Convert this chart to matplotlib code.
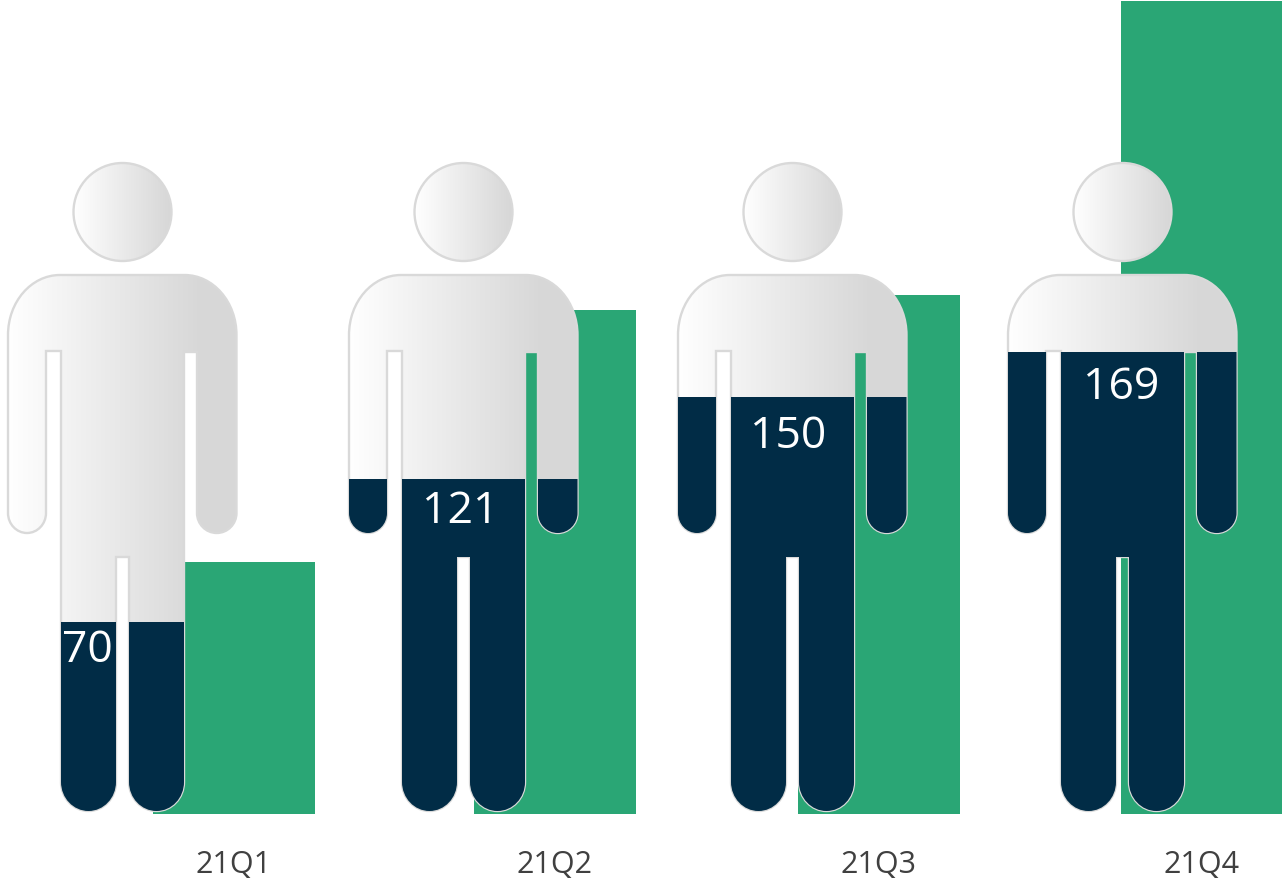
import sys
import numpy as np
import matplotlib
matplotlib.use("Agg")
import matplotlib.pyplot as plt
from matplotlib.patches import PathPatch, Rectangle
from matplotlib.path import Path
from matplotlib.transforms import Affine2D

# chart values
quarters = ["21Q1", "21Q2", "21Q3", "21Q4"]
person_values = [70, 121, 150, 169]
fill_levels = [69.2, 121.6, 151.6, 168.1]
bar_values = [92.3, 184.6, 190.1, 297.8]

# layout, in pixels of the 1282x879 picture
PX_PER_UNIT = 2.73
BASE_PX = 814
BAR_CENTERS = [234, 555, 879, 1201.5]
BAR_WIDTH = 162
PERSON_SHIFT = [0, 341, 670, 1000]
LABEL_X = [87, 460, 788, 1121]
LABEL_DROP = [28, 32, 39, 35]

GREEN = "#2aa675"
NAVY = "#012c46"
OUTLINE = "#d9d9d9"
FONT = ["Open Sans", "DejaVu Sans"]


def to_y(py: float) -> float:
    """Convert a picture row to a value on the y axis."""
    return (BASE_PX - py) / PX_PER_UNIT


def corner(p0, c, p1):
    """Return bezier points for a quarter ellipse from p0 around c to p1."""
    k = 0.5523
    return [
        (p0[0] + k * (c[0] - p0[0]), p0[1] + k * (c[1] - p0[1])),
        (p1[0] + k * (c[0] - p1[0]), p1[1] + k * (c[1] - p1[1])),
        p1,
    ]


def cap(x_right: float, x_left: float, y_start: float, y_end: float):
    """Return points of a round cap going right to left below y_start."""
    mid = (x_right + x_left) / 2
    return corner((x_right, y_start), (x_right, y_end), (mid, y_end)), \
        corner((mid, y_end), (x_left, y_end), (x_left, y_start))


def body_path(shift: float) -> Path:
    """Build the outline of body, arms and legs for one person."""
    verts = [(60, 275), (184.5, 275)]
    codes = [Path.MOVETO, Path.LINETO]

    def line(*points):
        for point in points:
            verts.append(point)
            codes.append(Path.LINETO)

    def curve(points):
        verts.extend(points)
        codes.extend([Path.CURVE4] * 3)

    curve(corner((184.5, 275), (236.5, 275), (236.5, 335)))
    line((236.5, 513))
    for part in cap(236.5, 197, 513, 533):
        curve(part)
    line((197, 352), (184, 352), (184, 782))
    for part in cap(184, 129, 782, 811):
        curve(part)
    line((129, 557), (116, 557), (116, 782))
    for part in cap(116, 61, 782, 811):
        curve(part)
    line((61, 351), (46, 351), (46, 513))
    for part in cap(46, 8, 513, 533):
        curve(part)
    line((8, 335))
    curve(corner((8, 335), (8, 275), (60, 275)))
    verts.append((60, 275))
    codes.append(Path.CLOSEPOLY)

    points = [(x + shift, to_y(y)) for x, y in verts]
    return Path(points, codes)


def head_path(shift: float) -> Path:
    """Build the head circle for one person."""
    transform = Affine2D().scale(49, 49 / PX_PER_UNIT).translate(
        122.5 + shift, to_y(212))
    return Path.unit_circle().transformed(transform)


def gradient(ax, path: Path, x0: float, x1: float, end: float,
             y0: float, y1: float) -> None:
    """Paint a white to grey left-right gradient clipped to path."""
    shades = np.clip(np.linspace(0, 1, 256) / end, 0, 1)
    image = np.ones((1, 256, 3))
    image[0, :, :] = (1 - shades[:, None]) * 1.0 + shades[:, None] * 0.845
    im = ax.imshow(image, extent=(x0, x1, y0, y1), aspect="auto", zorder=2,
                   interpolation="bilinear")
    im.set_clip_path(path, ax.transData)


def draw_person(ax, shift: float, level_value: float) -> None:
    """Draw one pictogram, filled with navy up to its level."""
    body = body_path(shift)
    head = head_path(shift)

    gradient(ax, body, 8 + shift, 237 + shift, 0.84, to_y(811), to_y(275))
    gradient(ax, head, 73 + shift, 172 + shift, 0.97, to_y(261), to_y(163))

    for path in (body, head):
        ax.add_patch(PathPatch(path, facecolor="none", edgecolor=OUTLINE,
                               linewidth=1.7, zorder=3))

    # navy sits over the outline, so only its outer half stays visible
    bottom = to_y(811)
    level = Rectangle((shift, bottom), 260, level_value, facecolor=NAVY,
                      edgecolor="none", zorder=4)
    ax.add_patch(level)
    level.set_clip_path(body, ax.transData)


def main() -> int:
    """Draw the chart and save it as out.png."""
    try:
        fig = plt.figure(figsize=(12.82, 8.79), dpi=100)
        ax = fig.add_axes([0, (879 - BASE_PX - 1) / 879, 1, BASE_PX / 879])

        ax.bar(BAR_CENTERS, bar_values, width=BAR_WIDTH, color=GREEN, zorder=1)

        for i, value in enumerate(person_values):
            level_value = fill_levels[i]
            draw_person(ax, PERSON_SHIFT[i], level_value)
            ax.text(LABEL_X[i],
                    to_y(811) + level_value - LABEL_DROP[i] / PX_PER_UNIT,
                    str(value), color="white", fontsize=32, ha="center",
                    va="center", family=FONT, zorder=5)

        ax.set_xlim(0, 1282)
        ax.set_ylim(0, BASE_PX / PX_PER_UNIT)
        ax.set_xticks(BAR_CENTERS, quarters)
        ax.set_yticks([])
        ax.tick_params(axis="x", length=0, pad=25.5, labelsize=22,
                       labelcolor="#404040")
        for label in ax.get_xticklabels():
            label.set_family(FONT)
        for spine in ax.spines.values():
            spine.set_visible(False)

        fig.savefig("out.png", dpi=100, facecolor="white")
        return 0

    except Exception as e:
        print(f"Error: {e}")
        return 1


if __name__ == "__main__":
    sys.exit(main())
